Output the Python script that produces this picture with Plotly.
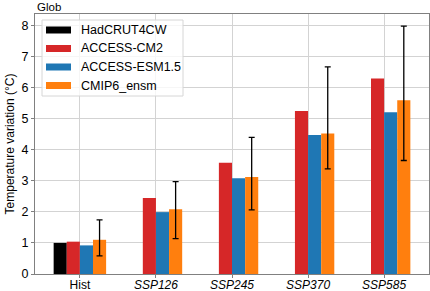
import plotly.graph_objects as go

categories = ["Hist", "SSP126", "SSP245", "SSP370", "SSP585"]
tick_labels = ["Hist", "<i>SSP126</i>", "<i>SSP245</i>", "<i>SSP370</i>", "<i>SSP585</i>"]
hadcrut = [1.0, None, None, None, None]
access_cm2 = [1.04, 2.44, 3.58, 5.24, 6.29]
access_esm = [0.92, 1.99, 3.08, 4.47, 5.20]
cmip6 = [1.10, 2.08, 3.12, 4.52, 5.59]
cmip6_hi = [1.74, 2.97, 4.39, 6.66, 7.97]
cmip6_lo = [0.58, 1.14, 2.06, 3.38, 3.65]
series_names = ["HadCRUT4CW", "ACCESS-CM2", "ACCESS-ESM1.5", "CMIP6_ensm"]
series_colors = ["#000000", "#d62728", "#1f77b4", "#ff7f0e"]

err_plus = [h - v for h, v in zip(cmip6_hi, cmip6)]
err_minus = [v - l for l, v in zip(cmip6_lo, cmip6)]

W, H = 430, 291
ML, MR, MT, MB = 35, 1, 14, 17
PW, PH = W - ML - MR, H - MT - MB


def px(x):
    return (x - ML) / PW


def py(y):
    return (H - MB - y) / PH


font = "Liberation Sans, Arial, sans-serif"
fig = go.Figure()
for name, vals, col in zip(series_names, [hadcrut, access_cm2, access_esm, cmip6], series_colors):
    kw = {}
    if name == "CMIP6_ensm":
        kw["error_y"] = dict(type="data", symmetric=False, array=err_plus,
                             arrayminus=err_minus, color="#000000",
                             thickness=1.3, width=3)
    fig.add_trace(go.Bar(x=categories, y=vals, name=name, showlegend=False,
                         marker=dict(color=col, line=dict(width=0)), **kw))

# custom matplotlib-style legend
shapes = [dict(type="rect", xref="paper", yref="paper",
               x0=px(42), x1=px(183), y0=py(96), y1=py(20),
               fillcolor="rgba(255,255,255,0.8)", line=dict(color="#d6d6d6", width=1),
               layer="above")]
annotations = [dict(text="Glob", xref="paper", yref="paper", x=0, y=1.0,
                    xanchor="left", yanchor="bottom", showarrow=False,
                    font=dict(size=11.5, family=font), yshift=-1)]
row_y = [30, 48.5, 67, 85.5]
for name, col, ry in zip(series_names, series_colors, row_y):
    shapes.append(dict(type="rect", xref="paper", yref="paper",
                       x0=px(46), x1=px(71), y0=py(ry + 3.5), y1=py(ry - 3.5),
                       fillcolor=col, line=dict(width=0), layer="above"))
    annotations.append(dict(text=name, xref="paper", yref="paper", x=px(79), y=py(ry),
                            xanchor="left", yanchor="middle", showarrow=False,
                            font=dict(size=12.5, family=font)))

fig.update_layout(
    width=W, height=H,
    margin=dict(l=ML, r=MR, t=MT, b=MB),
    barmode="group", bargap=0.31, bargroupgap=0,
    plot_bgcolor="white", paper_bgcolor="white",
    font=dict(family=font, size=12, color="#000000"),
    showlegend=False,
    shapes=shapes, annotations=annotations,
)
fig.update_xaxes(range=[-0.59, 4.59], tickmode="array", tickvals=categories,
                 ticktext=tick_labels, showgrid=True, gridcolor="#d3d3d3",
                 gridwidth=1, showline=True, linecolor="#808080", linewidth=1,
                 mirror=True, ticks="outside", ticklen=3, tickcolor="#808080",
                 tickfont=dict(size=12), zeroline=False, automargin=False,
                 ticklabelstandoff=-3)
fig.update_yaxes(range=[0, 8.36], tickvals=[0, 1, 2, 3, 4, 5, 6, 7, 8],
                 showgrid=True, gridcolor="#d3d3d3", gridwidth=1,
                 showline=True, linecolor="#808080", linewidth=1, mirror=True,
                 ticks="outside", ticklen=3, tickcolor="#808080",
                 tickfont=dict(size=12.5), zeroline=False, automargin=False,
                 title=dict(text="Temperature variation (°C)", font=dict(size=12),
                            standoff=4))
fig.write_html("out.html", config={"displayModeBar": False},
               post_script="document.body.style.margin='0';document.body.style.overflow='hidden';")
